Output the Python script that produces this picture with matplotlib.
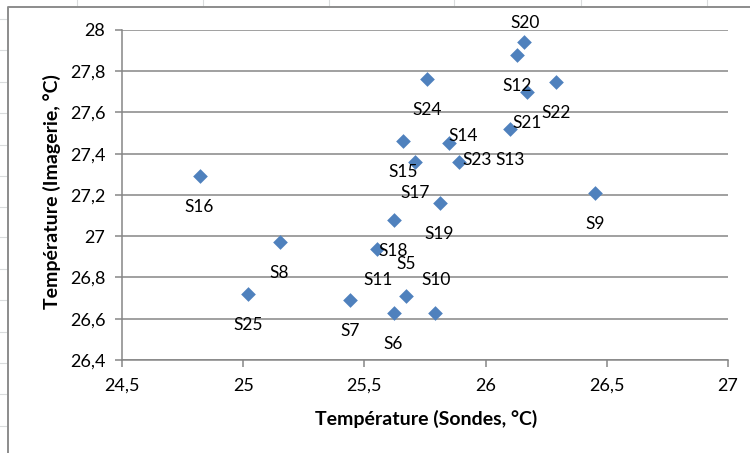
import matplotlib.pyplot as plt
from matplotlib.lines import Line2D

plt.rcParams["font.family"] = ["Lato", "DejaVu Sans"]

# points (Sondes vs Imagerie)
labels = ["S16", "S8", "S25", "S7", "S6", "S5", "S10", "S11", "S18", "S19",
          "S17", "S15", "S14", "S23", "S24", "S13", "S21", "S12", "S20",
          "S22", "S9"]
sondes = [24.82, 25.15, 25.02, 25.44, 25.62, 25.67, 25.79, 25.55, 25.62, 25.81,
          25.71, 25.66, 25.85, 25.89, 25.76, 26.10, 26.17, 26.13, 26.16,
          26.29, 26.45]
imagerie = [27.29, 26.97, 26.72, 26.69, 26.63, 26.71, 26.63, 26.94, 27.08, 27.16,
            27.36, 27.46, 27.45, 27.36, 27.76, 27.52, 27.70, 27.88, 27.94,
            27.75, 27.21]

xticks = [24.5, 25, 25.5, 26, 26.5, 27]
yticks = [26.4, 26.6, 26.8, 27, 27.2, 27.4, 27.6, 27.8, 28]

# label offset in pixels (dx, dy up), most labels sit under their point
label_offsets = {"S10": (1, 33), "S5": (1, 32), "S11": (2, -31),
                 "S14": (14, 7), "S23": (18, 2), "S20": (1, 19)}

fig = plt.figure(figsize=(7.5, 4.53), dpi=100)
ax = fig.add_axes([0.1627, 0.2053, 0.808, 0.7285])

ax.scatter(sondes, imagerie, marker="D", s=56, color="#4F81BD",
           linewidths=0, zorder=3)

for lab, x, y in zip(labels, sondes, imagerie):
    dx, dy = label_offsets.get(lab, (0, -31))
    ax.annotate(lab, (x, y), xytext=(dx, dy), textcoords="offset pixels",
                ha="center", va="center", fontsize=12.5, color="black",
                zorder=4)

ax.set_xlim(24.5, 27)
ax.set_ylim(26.4, 28)
ax.set_xticks(xticks)
ax.set_yticks(yticks)
ax.set_xticklabels([str(t).replace(".", ",") for t in xticks])
ax.set_yticklabels([("%g" % t).replace(".", ",") for t in yticks])
ax.grid(axis="y", color="#868686", linewidth=1.1)
ax.set_axisbelow(True)

for s in ["top", "right"]:
    ax.spines[s].set_visible(False)
for s in ["left", "bottom"]:
    ax.spines[s].set_color("#868686")
    ax.spines[s].set_linewidth(1.1)
ax.tick_params(axis="both", colors="#868686", labelcolor="black",
               labelsize=13, length=5, width=1.1)
ax.tick_params(axis="y", pad=7)
ax.tick_params(axis="x", pad=8)

ax.set_xlabel("Température (Sondes, °C)", fontsize=14, fontweight="bold")
ax.set_ylabel("Température (Imagerie, °C)", fontsize=14, fontweight="bold")
ax.xaxis.set_label_coords(0.502, -0.152)
ax.yaxis.set_label_coords(-0.1, 0.509)

# spreadsheet behind the chart
for x in [77, 203, 329, 454, 581, 707]:
    fig.add_artist(Line2D([x / 750, x / 750], [1, 1 - 6 / 453],
                          color="#dadcdd", linewidth=0.8))
for y in [19, 50, 82, 113, 145, 176, 207, 237, 269, 300, 332, 363, 394, 426]:
    fig.add_artist(Line2D([0, 7 / 750], [1 - y / 453, 1 - y / 453],
                          color="#dadcdd", linewidth=0.8))
fig.add_artist(Line2D([7.5 / 750, 7.5 / 750, 1], [0, 1 - 7 / 453, 1 - 7 / 453],
                      color="#8c8c8c", linewidth=1.4))

fig.savefig("out.png", dpi=100)
